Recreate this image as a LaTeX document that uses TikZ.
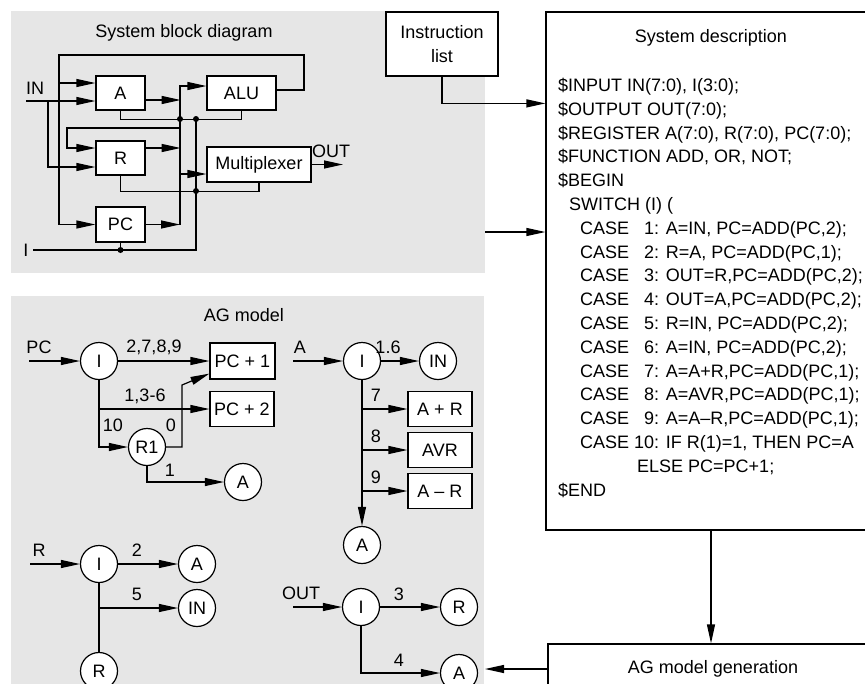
\documentclass[tikz,border=0pt]{standalone}
\usepackage{fontspec}
\setmainfont{Liberation Sans}
\usetikzlibrary{arrows.meta, calc}
\definecolor{grisPanel}{HTML}{E6E6E6}
\colorlet{colLinea}{black}
\newcommand{\fuenteDiag}{\fontsize{18}{23.8}\selectfont}
\tikzset{
  cajaBase/.style={
    draw=colLinea, line width=1.2pt, fill=white,
    inner sep=0pt, align=center, font=\fuenteDiag
  },
  cajaBloque/.style={cajaBase, minimum width=49pt, minimum height=34pt},
  cajaAG/.style={cajaBase, minimum width=64pt, minimum height=35pt},
  circulo/.style={cajaBase, circle, minimum size=37pt},
  etiqueta/.style={font=\fuenteDiag, inner sep=0pt},
  flecha/.style={-{Triangle[length=19pt, width=8pt]}, line width=1.2pt, colLinea},
  linea/.style={line width=1.2pt, colLinea},
  punto/.style={circle, fill=colLinea, inner sep=0pt, minimum size=6pt},
}

\begin{document}
\begin{tikzpicture}[x=1pt, y=-1pt]
  \useasboundingbox (0,0) rectangle (865,683);
  \clip (0,0) rectangle (865,683);

  % paneles grises
  \fill[grisPanel] (11,11) rectangle (485,273);
  \fill[grisPanel] (11,296) rectangle (484,690);

  % ---------- diagrama de bloques ----------
  \node[etiqueta] (tituloBloques) at (184,33) {System block diagram};
  \node[cajaBloque] (regA) at (120.5,93) {A};
  \node[cajaBloque, minimum width=69pt] (alu) at (241.5,93) {ALU};
  \node[cajaBloque] (regR) at (120.5,158) {R};
  \node[cajaBloque, minimum width=104pt, minimum height=35pt] (mux) at (259,164.5) {Multiplexer};
  \node[cajaBloque, minimum height=35pt] (regPC) at (120.5,224.5) {PC};

  \node[etiqueta] (etiqIN) at (35,88) {IN};
  \node[etiqueta] (etiqI) at (26,250) {I};
  \node[etiqueta] (etiqOUT) at (331,151) {OUT};

  \coordinate (inIzq) at (26,101);
  \coordinate (inRama) at (48,101);
  \coordinate (iIzq) at (33,250);
  \coordinate (busTop) at (180,86);
  \coordinate (busBajo) at (180,224.5);
  \coordinate (outDer) at (343,164.5);

  \draw[flecha] (inIzq) -- ($(regA.west)+(0,8)$);
  \draw[flecha] (inRama) |- ($(regR.west)+(0,9)$);
  \draw[flecha] ($(alu.east)+(0,-3)$) -| (304,55) -- (59,55) |- (regPC.west);
  \draw[flecha] (59,83) -- ($(regA.west)+(0,-10)$);
  \draw[flecha] ($(regA.east)+(0,7)$) -- ++(35,0);
  \draw[flecha] (busBajo) -- (busTop) -- ($(alu.west)+(0,-7)$);
  \draw[flecha] ($(regR.east)+(0,-10)$) -- ++(35,0);
  \draw[flecha] (regPC.east) -- (busBajo);
  \draw[flecha] (180,174) -- ($(mux.west)+(0,9.5)$);
  \draw[flecha] (180,128) -- (67,128) |- ($(regR.west)+(0,-10)$);
  \draw[linea] (regA.south) -- ++(0,9) -| (alu.south);
  \draw[linea] (196,119) -- (196,250) -- (iIzq);
  \draw[linea] (regPC.south) -- (120.5,250);
  \draw[linea] (regR.south) -- ++(0,16) -| (mux.south);
  \draw[flecha] (mux.east) -- (outDer);

  \node[punto] (p1) at (180,119) {};
  \node[punto] (p2) at (196,119) {};
  \node[punto] (p3) at (196,191) {};
  \node[punto] (p4) at (120.5,250) {};

  % ---------- modelo AG ----------
  \node[etiqueta] (tituloAG) at (244,315) {AG model};

  % PC
  \node[etiqueta] (etiqPC) at (39,347) {PC};
  \node[circulo] (iPC) at (99,361) {I};
  \node[cajaAG, minimum width=65pt, minimum height=36pt] (pcUno) at (242.5,361) {PC + 1};
  \node[cajaAG] (pcDos) at (242,409) {PC + 2};
  \node[circulo] (r1) at (147,447) {R1};
  \node[circulo] (aPC) at (243,482) {A};
  \coordinate (pcIzq) at (29,361);
  \coordinate (ramaPC) at (99,409);
  \draw[flecha] (pcIzq) -- (iPC);
  \draw[flecha] (iPC) -- (pcUno);
  \draw[flecha] (iPC) |- (r1);
  \draw[flecha] (ramaPC) -- (pcDos);
  \draw[flecha] (r1) -| (182,385) -- ($(pcUno.south west)+(0,-6)$);
  \draw[flecha] (r1) |- (aPC);
  \node[etiqueta] (l2789) at (154,347) {2,7,8,9};
  \node[etiqueta] (l136) at (145,396) {1,3-6};
  \node[etiqueta] (l10) at (113,425) {10};
  \node[etiqueta] (l0) at (171,425) {0};
  \node[etiqueta] (l1) at (170,470) {1};

  % A
  \node[etiqueta] (etiqA) at (300,347) {A};
  \node[circulo] (iA) at (362,361) {I};
  \node[circulo] (inA) at (438,361) {IN};
  \node[circulo] (aA) at (362,545) {A};
  \node[cajaAG] (aMasR) at (440,409) {A + R};
  \node[cajaAG] (avr) at (440,450) {AVR};
  \node[cajaAG] (aMenosR) at (440,491) {A – R};
  \coordinate (aIzq) at (293,361);
  \draw[flecha] (aIzq) -- (iA);
  \draw[flecha] (iA) -- (inA);
  \draw[flecha] (iA) -- (aA);
  \foreach \y/\destino/\caso in {409/aMasR/7, 450/avr/8, 491/aMenosR/9} {
    \draw[flecha] (362,\y) -- (\destino);
    \node[etiqueta] (l\caso) at (376,\y-14) {\caso};
  }
  \node[etiqueta] (l16) at (388,347) {1.6};

  % R
  \node[etiqueta] (etiqR) at (39,550) {R};
  \node[circulo] (iR) at (99,564) {I};
  \node[circulo] (aR) at (197,564) {A};
  \node[circulo] (inR) at (197,608) {IN};
  \node[circulo] (rR) at (99,671) {R};
  \coordinate (rIzq) at (30,564);
  \coordinate (ramaR) at (99,608);
  \draw[flecha] (rIzq) -- (iR);
  \draw[flecha] (iR) -- (aR);
  \draw[linea] (iR) -- (rR);
  \draw[flecha] (ramaR) -- (inR);
  \node[etiqueta] (l2) at (137,550) {2};
  \node[etiqueta] (l5) at (137,594) {5};

  % OUT
  \node[etiqueta] (etiqOut) at (301,593) {OUT};
  \node[circulo] (iOut) at (361,607) {I};
  \node[circulo] (rOut) at (459,607) {R};
  \node[circulo] (aOut) at (459,673) {A};
  \coordinate (outIzq) at (293,607);
  \draw[flecha] (outIzq) -- (iOut);
  \draw[flecha] (iOut) -- (rOut);
  \draw[flecha] (iOut) |- (aOut);
  \node[etiqueta] (l3) at (399,594) {3};
  \node[etiqueta] (l4) at (399,660) {4};

  % ---------- descripcion del sistema ----------
  \node[cajaBase, minimum width=112pt, minimum height=64pt] (instr) at (442,44) {Instruction\\list};
  \node[cajaBase, minimum width=330pt, minimum height=518pt] (desc) at (711,271) {};
  \node[etiqueta] (descTit) at (711,38) {System description};
  \foreach \linea [count=\n from 0] in {
    {\$INPUT IN(7:0), I(3:0);},
    {\$OUTPUT OUT(7:0);},
    {\$REGISTER A(7:0), R(7:0), PC(7:0);},
    {\$FUNCTION ADD, OR, NOT;},
    {\$BEGIN},
    {\hspace*{11pt}SWITCH (I) (},
    {\hspace*{22pt}CASE \hphantom{1}1: A=IN, PC=ADD(PC,2);},
    {\hspace*{22pt}CASE \hphantom{1}2: R=A, PC=ADD(PC,1);},
    {\hspace*{22pt}CASE \hphantom{1}3: OUT=R,PC=ADD(PC,2);},
    {\hspace*{22pt}CASE \hphantom{1}4: OUT=A,PC=ADD(PC,2);},
    {\hspace*{22pt}CASE \hphantom{1}5: R=IN, PC=ADD(PC,2);},
    {\hspace*{22pt}CASE \hphantom{1}6: A=IN, PC=ADD(PC,2);},
    {\hspace*{22pt}CASE \hphantom{1}7: A=A+R,PC=ADD(PC,1);},
    {\hspace*{22pt}CASE \hphantom{1}8: A=AVR,PC=ADD(PC,1);},
    {\hspace*{22pt}CASE \hphantom{1}9: A=A–R,PC=ADD(PC,1);},
    {\hspace*{22pt}CASE 10: IF R(1)=1, THEN PC=A},
    {\hspace*{79pt}ELSE PC=PC+1;},
    {\$END}} {
    \node[etiqueta, anchor=base west] (cod\n) at (558,{91.5+23.8*\n}) {\linea};
  }
  \node[cajaBase, minimum width=330pt, minimum height=50pt] (agGen) at (713,669) {AG model generation};

  \coordinate (salidaBloque) at (485,232);
  \coordinate (entradaAG) at (485,669);
  \draw[flecha] (instr.south) |- ($(desc.north west)+(0,92)$);
  \draw[flecha] (salidaBloque) -- (salidaBloque -| desc.west);
  \draw[flecha] (desc.south) -- (desc.south |- agGen.north);
  \draw[flecha] (agGen.west) -- (entradaAG);
\end{tikzpicture}
\end{document}
